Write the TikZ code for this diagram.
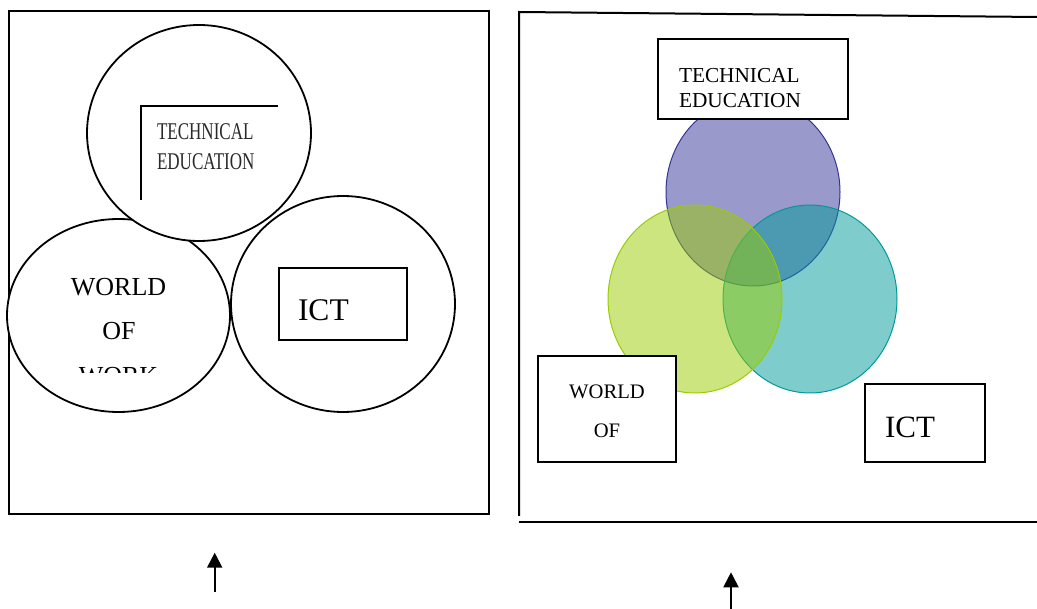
\documentclass[tikz,border=0pt]{standalone}
\usepackage{fontspec}
\usepackage{graphicx}
\setmainfont{Liberation Serif}
\usetikzlibrary{shapes.geometric,arrows.meta}
\definecolor{vpurple}{HTML}{333399}
\definecolor{vgreen}{HTML}{99CC00}
\definecolor{vteal}{HTML}{009999}
\definecolor{grtext}{HTML}{2A2A2A}
\tikzset{
  frame/.style={line width=2pt, black},
  oval/.style={ellipse, draw=black, line width=1.8pt, fill=white, inner sep=0pt},
  venn/.style={ellipse, line width=1pt, fill opacity=0.5, draw opacity=1, inner sep=0pt,
     minimum width=174pt, minimum height=188pt},
  box/.style={rectangle, draw=black, line width=2pt, fill=white, inner sep=0pt},
  lbl/.style={inner sep=0pt, outer sep=0pt, text=black},
  uparrow/.style={line width=2pt, -{Triangle[width=15pt,length=15pt]}}
}
\begin{document}
\begin{tikzpicture}[x=1pt,y=-1pt]
\useasboundingbox (0,0) rectangle (1037,609);

% ---------- left panel ----------
\draw[frame] (9,11) rectangle (489,514.5);
\node[oval, minimum width=223pt, minimum height=193pt] (lwork) at (118.5,315.5) {};
\node[oval, minimum width=224pt, minimum height=216pt] (lict) at (343,304) {};
\node[oval, minimum width=224pt, minimum height=216pt] (ltech) at (199,133) {};

\coordinate (lc1) at (141,200);
\coordinate (lc2) at (141,106);
\coordinate (lc3) at (278,106);
\draw[line width=1.8pt] (lc1) -- (lc2) -- (lc3);
\node[lbl, anchor=base west, text=grtext, font=\fontsize{24}{28}\selectfont] (lt1) at (157,140) {\scalebox{0.71}[1]{TECHNICAL}};
\node[lbl, anchor=base west, text=grtext, font=\fontsize{24}{28}\selectfont] (lt2) at (157,170) {\scalebox{0.71}[1]{EDUCATION}};

\node[lbl, anchor=base, font=\fontsize{26}{30}\selectfont] (lw1) at (118.5,296) {WORLD};
\node[lbl, anchor=base, font=\fontsize{26}{30}\selectfont] (lw2) at (119,340) {OF};
\begin{scope}
  \clip (40,350) rectangle (200,373);
  \node[lbl, anchor=base, font=\fontsize{26}{30}\selectfont] (lw3) at (118.5,385) {WORK};
\end{scope}

\node[box, minimum width=128pt, minimum height=72pt] (lictbox) at (343,304) {};
\node[lbl, anchor=base west, font=\fontsize{31.5}{36}\selectfont] (lictt) at (298,321) {ICT};

% ---------- right panel ----------
\coordinate (rtr) at (1037,17);
\coordinate (rtl) at (519,12);
\coordinate (rbl) at (519,516);
\coordinate (rb1) at (519,521.7);
\coordinate (rb2) at (1037,521.7);
\draw[frame] (rtr) -- (rtl) -- (rbl);
\draw[frame] (rb1) -- (rb2);

\node[venn, draw=vpurple, fill=vpurple] (vtech) at (753,192) {};
\node[venn, draw=vteal, fill=vteal] (vict) at (810,299) {};
\node[venn, draw=vgreen, fill=vgreen] (vwork) at (695,299) {};

\node[box, minimum width=190pt, minimum height=80pt] (rtechbox) at (753,79) {};
\node[lbl, anchor=base west, font=\fontsize{21.3}{25}\selectfont] (rt1) at (679,83) {TECHNICAL};
\node[lbl, anchor=base west, font=\fontsize{21.3}{25}\selectfont] (rt2) at (679,107.6) {EDUCATION};

\node[box, minimum width=138.4pt, minimum height=106.4pt] (rworkbox) at (606.8,408.8) {};
\node[lbl, anchor=base, font=\fontsize{20.6}{24}\selectfont] (rw1) at (607,399) {WORLD};
\node[lbl, anchor=base, font=\fontsize{20.6}{24}\selectfont] (rw2) at (607,437.6) {OF};

\node[box, minimum width=120.4pt, minimum height=78pt] (rictbox) at (924.8,423) {};
\node[lbl, anchor=base west, font=\fontsize{31}{36}\selectfont] (rictt) at (885,437.6) {ICT};

% ---------- arrows ----------
\coordinate (a1s) at (214.7,592);
\coordinate (a1e) at (214.7,552.7);
\coordinate (a2s) at (731,609);
\coordinate (a2e) at (731,572.3);
\draw[uparrow] (a1s) -- (a1e);
\draw[uparrow] (a2s) -- (a2e);
\end{tikzpicture}
\end{document}
